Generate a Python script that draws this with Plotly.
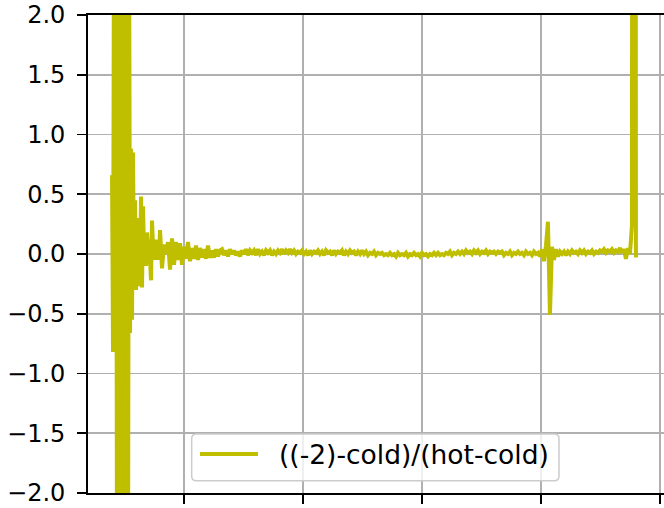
import numpy as np
import plotly.graph_objects as go

# ---- data ----
series_name = "((-2)-cold)/(hot-cold)"

# dense start segment (1 sample per step)
x_start_a = 0.395
x_step_a = 1 / 119
y_a = [0.66, -0.82, 3.0, -0.80, 3.0, -3.0, 3.0, -3.0, 3.0, -3.0,
       3.0, -3.0, 2.6, 0.40, -3.0, 3.0, -3.0, 3.0, -0.66, 0.88,
       -0.55, 0.85, -0.30, 0.45, -0.30, 0.20, 0.05, 0.30, -0.27, 0.48,
       -0.28, 0.40, 0.00, 0.15, -0.10, 0.18, 0.05, 0.12, -0.15, -0.22,
       0.28, 0.05, 0.12, -0.05, 0.10, 0.02, 0.12, -0.05, 0.20]

# remaining segment
x_start_b = 0.815
x_step_b = 2 / 119
y_b = [-0.12, 0.08, 0.00, 0.10, -0.13, 0.13, -0.09, 0.10, -0.05, 0.09,
       -0.09, 0.06, -0.04, 0.10, -0.06, 0.05, -0.04, 0.07, -0.05, 0.05,
       -0.03, 0.04, -0.04, 0.07, -0.03, 0.03, -0.03, 0.04, -0.02, 0.03,
       0.04, -0.01, 0.03, -0.02, 0.04, 0.00, 0.03, -0.01, 0.02, -0.02,
       0.03, 0.00, 0.04, -0.01, 0.03, 0.01, 0.03, -0.01, 0.04, 0.00,
       0.02, -0.01, 0.03, 0.01, 0.03, -0.01, 0.02, 0.00, 0.03, 0.01,
       0.04, 0.00, 0.03, 0.01, 0.04, 0.01, 0.03, 0.00, 0.02, 0.01,
       0.03, 0.00, 0.02, -0.01, 0.03, 0.00, 0.02, 0.01, 0.03, 0.00,
       0.02, -0.01, 0.03, 0.01, 0.02, -0.01, 0.03, 0.00, 0.02, 0.01,
       0.03, -0.01, 0.02, 0.00, 0.03, 0.01, 0.02, -0.01, 0.02, 0.00,
       0.03, 0.00, 0.02, -0.01, 0.01, 0.00, 0.02, -0.01, 0.01, 0.00,
       0.01, -0.01, 0.00, -0.01, 0.01, -0.01, 0.00, -0.02, 0.01, -0.01,
       0.00, -0.01, 0.01, -0.02, 0.00, -0.01, 0.01, -0.01, 0.00, -0.02,
       0.01, -0.01, 0.00, -0.02, 0.00, -0.01, 0.01, -0.01, 0.01, -0.01,
       0.00, -0.01, 0.01, 0.00, 0.02, -0.01, 0.01, 0.00, 0.02, 0.00,
       0.02, 0.00, 0.03, 0.01, 0.02, 0.00, 0.03, 0.01, 0.03, 0.00,
       0.02, 0.01, 0.03, 0.00, 0.02, 0.01, 0.02, 0.00, 0.02, 0.01,
       0.02, -0.01, 0.01, 0.00, 0.02, -0.01, 0.01, 0.00, 0.02, 0.00,
       0.01, -0.01, 0.02, 0.00, 0.01, -0.01, 0.02, 0.00, 0.01, -0.02,
       0.04, -0.06, 0.07, 0.27, -0.51, 0.06, -0.05, 0.04, -0.02, 0.02,
       0.00, 0.02, -0.01, 0.02, 0.00, 0.03, 0.01, 0.02, 0.00, 0.03,
       0.01, 0.03, 0.00, 0.02, 0.01, 0.03, 0.00, 0.02, 0.01, 0.03,
       0.02, 0.04, 0.01, 0.03, 0.02, 0.04, 0.01, 0.03, 0.02, 0.05,
       0.01, 0.04, -0.04, 0.05, 0.00, 0.24, 30.0, -0.03]

x_ticks = [1, 2, 3, 4, 5]
y_ticks = [-2.0, -1.5, -1.0, -0.5, 0.0, 0.5, 1.0, 1.5, 2.0]
x_limits = [0.193, 5.034]
y_limits = [-2.0, 2.0]

LINE_COLOR = "#bfbf00"

x_a = x_start_a + np.arange(len(y_a)) * x_step_a
x_b = x_start_b + np.arange(len(y_b)) * x_step_b
x = np.concatenate([x_a, x_b])
y = np.concatenate([np.array(y_a), np.array(y_b)])

fig = go.Figure()
fig.add_trace(go.Scatter(x=x, y=y, mode="lines", name=series_name,
                         line=dict(color=LINE_COLOR, width=4),
                         showlegend=False))

tick_font = dict(family="DejaVu Sans", size=24, color="black")
legend_font = dict(family="DejaVu Sans", size=26.5, color="black")

# legend box drawn in paper coordinates (rounded corners)
bx0, bx1, by0, by1 = 0.180, 0.8177, 0.0257, 0.1234
rx, ry = 0.008, 0.010
box_path = (f"M {bx0+rx},{by0} L {bx1-rx},{by0} Q {bx1},{by0} {bx1},{by0+ry} "
            f"L {bx1},{by1-ry} Q {bx1},{by1} {bx1-rx},{by1} "
            f"L {bx0+rx},{by1} Q {bx0},{by1} {bx0},{by1-ry} "
            f"L {bx0},{by0+ry} Q {bx0},{by0} {bx0+rx},{by0} Z")

fig.update_layout(
    width=664, height=508,
    margin=dict(l=88, r=0, t=15, b=15, autoexpand=False),
    paper_bgcolor="white", plot_bgcolor="white",
    font=tick_font,
    showlegend=False,
    hovermode=False,
    shapes=[
        dict(type="path", path=box_path, xref="paper", yref="paper",
             fillcolor="rgba(255,255,255,0.8)",
             line=dict(color="#cccccc", width=1.5), layer="above"),
        dict(type="line", xref="paper", yref="paper",
             x0=0.1944, x1=0.2951, y0=0.0816, y1=0.0816,
             line=dict(color=LINE_COLOR, width=4), layer="above"),
    ],
    annotations=[
        dict(text=series_name, xref="paper", yref="paper",
             x=0.3285, y=0.0800, xanchor="left", yanchor="middle",
             showarrow=False, font=legend_font),
    ],
)
fig.update_xaxes(range=x_limits, tickvals=x_ticks, showticklabels=False,
                 automargin=False,
                 ticks="outside", ticklen=9, tickwidth=1.9, tickcolor="black",
                 showline=True, linecolor="black", linewidth=1.9, mirror=True,
                 showgrid=True, gridcolor="#b0b0b0", gridwidth=1.9,
                 zeroline=False)
fig.update_yaxes(range=y_limits, tickvals=y_ticks, tickformat=".1f",
                 automargin=False,
                 ticks="outside", ticklen=9, tickwidth=1.9, tickcolor="black",
                 ticklabelstandoff=7, ticklabeloverflow="allow",
                 showline=True, linecolor="black", linewidth=1.9,
                 showgrid=True, gridcolor="#b0b0b0", gridwidth=1.9,
                 zeroline=False, tickfont=tick_font)

fig.write_html("out.html",
               config={"displayModeBar": False, "staticPlot": True},
               post_script="document.body.style.margin='0';document.body.style.overflow='hidden';")
